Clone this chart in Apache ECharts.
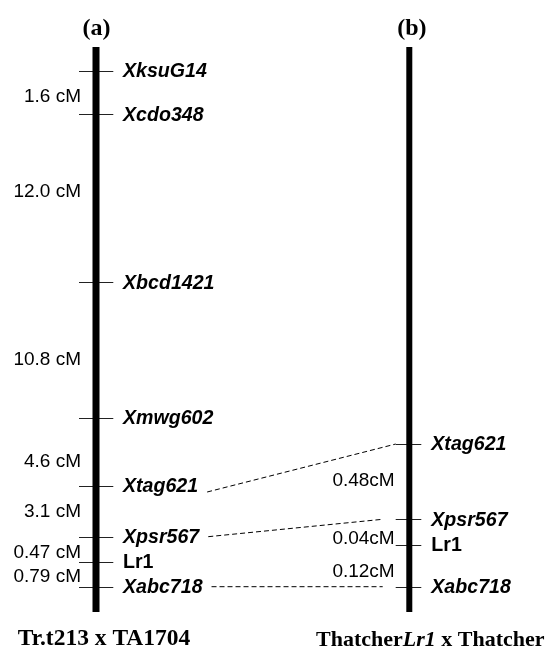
<!DOCTYPE html>
<html><head><meta charset="utf-8">
<script src="https://cdn.jsdelivr.net/npm/echarts@6/dist/echarts.min.js"></script>
<style>html,body{margin:0;padding:0;background:#fff}#c{width:546px;height:650px}</style>
</head><body><div id="c"></div>
<script>
// ---- data (map positions in % of drawn chromosome length) ----
var markersA = ['XksuG14', 'Xcdo348', 'Xbcd1421', 'Xmwg602', 'Xtag621', 'Xpsr567', 'Lr1', 'Xabc718'];
var posA = [4.25, 11.91, 41.65, 65.61, 77.70, 86.67, 91.10, 95.52];
var distLabelsA = ['1.6 cM', '12.0 cM', '10.8 cM', '4.6 cM', '3.1 cM', '0.47 cM', '0.79 cM'];
var distPosA = [8.80, 25.61, 55.40, 73.40, 82.25, 89.56, 93.75];

var markersB = ['Xtag621', 'Xpsr567', 'Lr1', 'Xabc718'];
var posB = [70.27, 83.59, 88.14, 95.52];
var distLabelsB = ['0.48cM', '0.04cM', '0.12cM'];
var distPosB = [76.76, 86.96, 92.87];

var links = ['Xtag621', 'Xpsr567', 'Xabc718'];
var genes = ['Lr1'];
var chromTitles = ['(a)', '(b)'];
var crossA = 'Tr.t213 x TA1704';
var crossB = ['Thatcher', 'Lr1', ' x Thatcher'];
var chromExtent = [0, 100];

// ---- styles ----
var SANS = '"Liberation Sans", Arial, sans-serif';
var SERIF = '"Liberation Serif", "Times New Roman", serif';
var markerFont = 'italic bold 19.6px ' + SANS;
var geneFont = 'bold 19.6px ' + SANS;
var distFont = '19px ' + SANS;
var chromStyle = [
  {width: 7, tickL: 17, tickR: 17.3, lblOff: 27, distOff: 15},
  {width: 6, tickL: 13.6, tickR: 12, lblOff: 22, distOff: 14.6}
];
var linkStartDy = [6, 0, 0];
var linkEndGap = [0, 13, 13];

var measureCtx = document.createElement('canvas').getContext('2d');
function textW(t, font) { measureCtx.font = font; return measureCtx.measureText(t).width; }

function markerSeries(ci, names, pos) {
  var cs = chromStyle[ci];
  return {
    type: 'custom', clip: false, silent: true,
    data: pos.map(function (p) { return [ci, p]; }),
    renderItem: function (params, api) {
      var pt = api.coord([api.value(0), api.value(1)]);
      var name = names[params.dataIndex];
      var y = Math.round(pt[1]) + 0.5;
      return {
        type: 'group', children: [
          {type: 'line', shape: {x1: pt[0] - cs.tickL, y1: y, x2: pt[0] + cs.tickR, y2: y},
           style: {stroke: '#222', lineWidth: 1}},
          {type: 'text', x: pt[0] + cs.lblOff, y: pt[1] + 1,
           style: {text: name, font: genes.indexOf(name) >= 0 ? geneFont : markerFont,
                   fill: '#000', align: 'left', verticalAlign: 'middle'}}
        ]
      };
    }
  };
}
function distSeries(ci, labels, pos) {
  var cs = chromStyle[ci];
  return {
    type: 'custom', clip: false, silent: true,
    data: pos.map(function (p) { return [ci, p]; }),
    renderItem: function (params, api) {
      var pt = api.coord([api.value(0), api.value(1)]);
      return {type: 'text', x: pt[0] - cs.distOff, y: pt[1],
              style: {text: labels[params.dataIndex], font: distFont, fill: '#000',
                      align: 'right', verticalAlign: 'middle'}};
    }
  };
}

var chart = echarts.init(document.getElementById('c'), null, {renderer: 'canvas'});
var option = {
  animation: false,
  backgroundColor: '#fff',
  grid: {left: 96, right: 136.7, top: 47, bottom: 38},
  xAxis: {type: 'value', min: 0, max: 1, show: false},
  yAxis: {type: 'value', min: chromExtent[0], max: chromExtent[1], inverse: true, show: false},
  series: [
    {type: 'line', silent: true, symbol: 'none', data: [[0, chromExtent[0]], [0, chromExtent[1]]],
     lineStyle: {color: '#000', width: chromStyle[0].width, cap: 'butt'}},
    {type: 'line', silent: true, symbol: 'none', data: [[1, chromExtent[0]], [1, chromExtent[1]]],
     lineStyle: {color: '#000', width: chromStyle[1].width, cap: 'butt'}},
    markerSeries(0, markersA, posA),
    markerSeries(1, markersB, posB),
    distSeries(0, distLabelsA, distPosA),
    distSeries(1, distLabelsB, distPosB),
    {
      type: 'custom', clip: false, silent: true,
      data: links.map(function (n) { return [posA[markersA.indexOf(n)], posB[markersB.indexOf(n)]]; }),
      renderItem: function (params, api) {
        var i = params.dataIndex;
        var a = api.coord([0, api.value(0)]);
        var b = api.coord([1, api.value(1)]);
        var x1 = a[0] + chromStyle[0].lblOff + textW(links[i], markerFont) + 9;
        var x2 = b[0] - chromStyle[1].tickL - linkEndGap[i];
        return {type: 'line',
                shape: {x1: x1, y1: a[1] + linkStartDy[i], x2: x2, y2: b[1]},
                style: {stroke: '#000', lineWidth: 1, lineDash: [5, 3]}};
      }
    }
  ]
};
chart.setOption(option);

var topA = chart.convertToPixel({gridIndex: 0}, [0, chromExtent[0]]);
var topB = chart.convertToPixel({gridIndex: 0}, [1, chromExtent[0]]);
var botA = chart.convertToPixel({gridIndex: 0}, [0, chromExtent[1]]);
var botB = chart.convertToPixel({gridIndex: 0}, [1, chromExtent[1]]);
chart.setOption({
  graphic: [
    {type: 'text', x: topA[0] + 0.5, y: topA[1] - 18,
     style: {text: chromTitles[0], font: 'bold 24px ' + SERIF, fill: '#000', align: 'center', verticalAlign: 'middle'}},
    {type: 'text', x: topB[0] + 2.5, y: topB[1] - 18,
     style: {text: chromTitles[1], font: 'bold 24px ' + SERIF, fill: '#000', align: 'center', verticalAlign: 'middle'}},
    {type: 'text', x: botA[0] + 8, y: botA[1] + 27,
     style: {text: crossA, font: 'bold 23.5px ' + SERIF, fill: '#000', align: 'center', verticalAlign: 'middle'}},
    {type: 'text', x: botB[0] + 21, y: botB[1] + 28,
     style: {text: '{n|' + crossB[0] + '}{i|' + crossB[1] + '}{n|' + crossB[2] + '}',
             align: 'center', verticalAlign: 'middle',
             rich: {n: {font: 'bold 22px ' + SERIF, fill: '#000'},
                    i: {font: 'italic bold 22px ' + SERIF, fill: '#000'}}}}
  ]
});
</script></body></html>
